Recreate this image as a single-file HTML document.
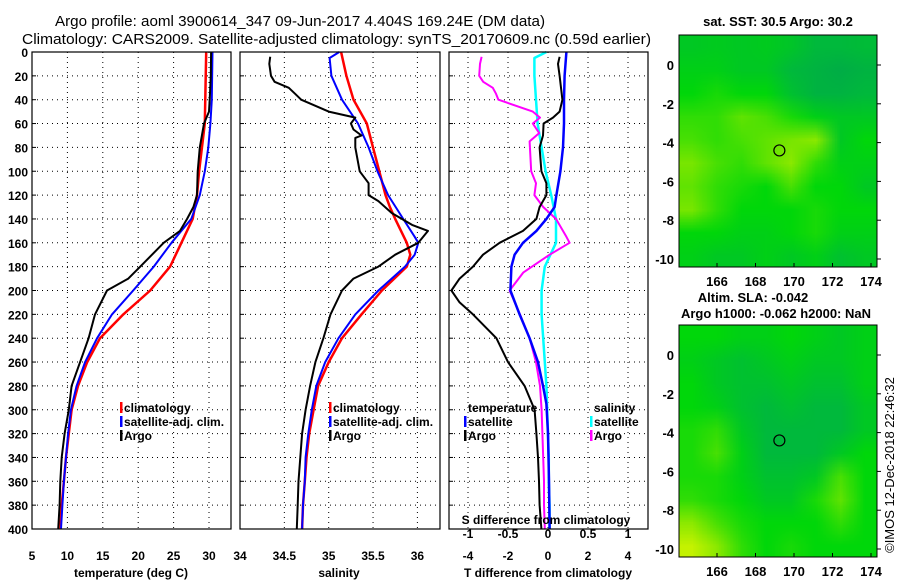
<!DOCTYPE html>
<html><head><meta charset="utf-8"><style>
html,body{margin:0;padding:0;background:#fff;width:900px;height:580px;overflow:hidden}
svg{position:absolute;left:0;top:0}
text{font-family:"Liberation Sans",Arial,sans-serif;font-weight:bold;fill:#000}
canvas{position:absolute}
</style></head><body>
<canvas id="sstMap" width="8" height="10" style="left:679px;top:35px;width:198px;height:232px"></canvas>
<canvas id="slaMap" width="8" height="10" style="left:679px;top:325px;width:198px;height:232px"></canvas>
<svg id="chart" width="900" height="580" xmlns="http://www.w3.org/2000/svg">
<text x="55" y="26" font-size="15" textLength="490" lengthAdjust="spacingAndGlyphs" style="font-weight:normal">Argo profile: aoml 3900614_347 09-Jun-2017 4.404S 169.24E (DM data)</text>
<text x="22" y="44" font-size="15" textLength="629" lengthAdjust="spacingAndGlyphs" style="font-weight:normal">Climatology: CARS2009. Satellite-adjusted climatology: synTS_20170609.nc (0.59d earlier)</text>
<text x="778" y="26" font-size="13" text-anchor="middle">sat. SST: 30.5 Argo: 30.2</text>
<text x="753" y="302" font-size="13" text-anchor="middle">Altim. SLA: -0.042</text>
<text x="776" y="318" font-size="13" text-anchor="middle">Argo h1000: -0.062 h2000: NaN</text>
<text x="0" y="0" font-size="13" style="font-weight:normal" text-anchor="middle" transform="translate(894,465) rotate(-90)">©IMOS 12-Dec-2018 22:46:32</text>
<g id="g"></g>
</svg>
<script>
// ---- data ----
const tClimDepth=[0,60,100,120,140,160,180,200,220,240,260,280,300,320,340,360,380,400];
const tClim=[29.6,29.4,28.6,28.3,27.7,26.1,24.5,21.7,17.9,14.6,12.8,11.5,10.6,10.2,9.8,9.5,9.2,9.0];
const tSatDepth=[0,40,60,80,100,120,140,160,180,200,220,240,260,280,300,320,340,360,380,400];
const tSat=[30.5,30.4,30.2,29.9,29.4,28.7,27.5,24.7,22.2,19.3,16.3,14.2,12.5,11.3,10.5,10.1,9.8,9.5,9.3,9.1];
const tArgoDepth=[0,20,40,50,60,80,100,120,130,140,150,160,180,190,200,220,240,260,280,300,320,340,360,380,400];
const tArgo=[30.3,30.25,30.1,30.0,29.3,28.7,28.4,28.3,27.8,26.9,25.9,23.6,20.3,18.6,15.6,13.9,13.0,11.8,10.6,10.2,9.6,9.2,9.0,8.9,8.7];
const sClimDepth=[0,20,40,60,80,100,120,130,140,160,170,180,200,220,240,260,280,300,320,340,360,380,400];
const sClim=[35.14,35.2,35.28,35.43,35.5,35.57,35.64,35.69,35.75,35.88,35.92,35.88,35.6,35.37,35.15,35.0,34.88,34.83,34.78,34.75,34.73,34.71,34.7];
const sSatDepth=[0,5,20,40,60,80,100,120,140,155,160,170,180,200,220,240,260,280,300,320,340,360,380,400];
const sSat=[35.12,35.01,35.03,35.15,35.33,35.45,35.55,35.67,35.84,35.97,36.01,35.97,35.86,35.56,35.3,35.11,34.96,34.86,34.81,34.77,34.74,34.73,34.71,34.7];
const sArgoDepth=[4,10,20,25,30,35,40,50,55,60,65,70,72,80,100,110,120,125,135,145,150,160,170,180,190,200,220,240,260,280,300,320,340,360,380,400];
const sArgo=[34.34,34.33,34.35,34.39,34.55,34.62,34.69,35.0,35.3,35.25,35.28,35.37,35.3,35.3,35.35,35.45,35.45,35.56,35.71,35.94,36.12,36.01,35.75,35.56,35.28,35.15,35.02,34.94,34.85,34.79,34.74,34.7,34.68,34.66,34.65,34.64];
const dsArgoDepth=[4,10,20,25,30,35,40,50,55,60,68,75,100,110,120,130,140,155,160,170,185,200,220,240,260,280,300,320,340,360,380,400];
const dsArgo=[-0.83,-0.85,-0.86,-0.81,-0.69,-0.65,-0.62,-0.19,-0.1,-0.19,-0.11,-0.23,-0.21,-0.15,-0.17,-0.06,0.1,0.23,0.27,0.02,-0.31,-0.48,-0.35,-0.23,-0.15,-0.1,-0.08,-0.07,-0.06,-0.05,-0.05,-0.04];
const dsSatDepth=[0,5,20,40,60,80,100,120,140,160,180,200,220,240,260,280,300,320,340,360,380,400];
const dsSat=[-0.02,-0.17,-0.17,-0.15,-0.13,-0.08,-0.03,0.04,0.1,0.1,-0.04,-0.08,-0.08,-0.06,-0.04,-0.02,-0.01,0,0.01,0.01,0.02,0.02];
const dtSatDepth=[0,20,40,60,80,100,120,130,140,150,160,170,180,200,220,240,260,280,295,320,360,400];
const dtSat=[0.92,0.83,0.8,0.8,0.75,0.62,0.42,0.33,-0.08,-0.58,-1.25,-1.67,-1.83,-1.88,-1.42,-0.92,-0.5,-0.25,-0.08,0,0.05,0.08];
const dtArgoDepth=[4,10,20,40,50,55,60,70,80,100,110,120,130,140,150,160,170,180,190,200,210,220,240,260,280,300,320,340,360,380,400];
const dtArgo=[0.58,0.5,0.58,0.72,0.58,0.25,-0.22,-0.25,-0.42,-0.33,-0.08,-0.08,-0.42,-0.58,-1.25,-2.42,-3.25,-3.75,-4.42,-4.83,-4.42,-3.75,-2.58,-2.0,-1.17,-0.67,-0.58,-0.5,-0.45,-0.42,-0.33];
const tTicks=[5,10,15,20,25,30];
const sTicks=[34.5,35,35.5,36];
const dtTicks=[-4,-2,0,2,4];
const dsTicks=[-1,-0.5,0,0.5,1];
const depthTicks=[0,20,40,60,80,100,120,140,160,180,200,220,240,260,280,300,320,340,360,380,400];
const lonTicks=[166,168,170,172,174];
const latTicks=[0,-2,-4,-6,-8,-10];
const sstGrid=[
[0.4,0.42,0.4,0.42,0.38,0.3,0.3,0.32],
[0.45,0.45,0.4,0.4,0.3,0.25,0.2,0.25],
[0.5,0.55,0.5,0.5,0.35,0.25,0.25,0.3],
[0.6,0.6,0.7,0.65,0.55,0.45,0.4,0.4],
[0.65,0.6,0.65,0.7,0.75,0.8,0.4,0.5],
[0.75,0.65,0.6,0.7,0.8,0.6,0.45,0.45],
[0.7,0.6,0.55,0.5,0.65,0.5,0.5,0.4],
[0.75,0.6,0.5,0.5,0.5,0.55,0.5,0.5],
[0.5,0.5,0.45,0.45,0.5,0.55,0.45,0.45],
[0.45,0.4,0.4,0.45,0.4,0.45,0.35,0.4]];
const slaGrid=[
[0.5,0.5,0.45,0.45,0.5,0.45,0.4,0.45],
[0.45,0.4,0.35,0.4,0.45,0.4,0.4,0.45],
[0.5,0.4,0.35,0.35,0.4,0.35,0.35,0.45],
[0.5,0.45,0.35,0.3,0.35,0.3,0.3,0.4],
[0.55,0.6,0.4,0.3,0.3,0.3,0.3,0.4],
[0.55,0.65,0.45,0.3,0.3,0.3,0.4,0.5],
[0.55,0.55,0.45,0.35,0.35,0.4,0.65,0.5],
[0.6,0.55,0.5,0.4,0.4,0.55,0.7,0.5],
[0.8,0.65,0.55,0.5,0.5,0.5,0.6,0.5],
[0.95,0.8,0.6,0.5,0.55,0.5,0.5,0.5]];
const argoLon=169.24, argoLat=-4.404;

// ---- drawing ----
const NS='http://www.w3.org/2000/svg';
const G=document.getElementById('g');
function mk(tag,attrs){const e=document.createElementNS(NS,tag);for(const k in attrs)e.setAttribute(k,attrs[k]);G.appendChild(e);return e;}
const yTop=52,yBot=529;
const yD=d=>yTop+(d/400)*(yBot-yTop);
function lin(d0,d1,r0,r1){return v=>r0+(v-d0)/(d1-d0)*(r1-r0);}
const xT=lin(5,30,32,209), xS=lin(34,36,240,417.4), xDT=lin(-4,4,468,628), xDS=lin(-1,1,468,628);
const panels=[[32,231],[240,440],[449,648]];

function grid(x0,x1,xs,xf){
  depthTicks.forEach(d=>{if(d>0&&d<400){const l=mk('line',{x1:x0,x2:x1,y1:yD(d),y2:yD(d),stroke:'#000','stroke-width':1,'stroke-dasharray':'1 4'});
    
    const t=mk('line',{x1:x0,x2:x0+4,y1:yD(d),y2:yD(d),stroke:'#000'});}});
  xs.forEach(v=>{const x=xf(v);if(x>x0+1&&x<x1-1){const l=mk('line',{x1:x,x2:x,y1:yTop,y2:yBot,stroke:'#000','stroke-width':1,'stroke-dasharray':'1 4'});
    }});
}
grid(32,231,tTicks,xT);grid(240,440,sTicks,xS);grid(449,648,dtTicks,xDT);

function series(ds,vs,xf,color,w,name){
  const pts=ds.map((d,i)=>xf(vs[i]).toFixed(1)+','+yD(d).toFixed(1)).join(' ');
  const p=mk('polyline',{points:pts,fill:'none',stroke:color,'stroke-width':w,'stroke-linejoin':'round'});
  
}
series(tClimDepth,tClim,xT,'#ff0000',2.5,'temp-climatology-line');
series(tSatDepth,tSat,xT,'#0000ff',2,'temp-satellite-line');
series(tArgoDepth,tArgo,xT,'#000',2,'temp-argo-line');
series(sClimDepth,sClim,xS,'#ff0000',2.5,'sal-climatology-line');
series(sSatDepth,sSat,xS,'#0000ff',2,'sal-satellite-line');
series(sArgoDepth,sArgo,xS,'#000',2,'sal-argo-line');
series(dsSatDepth,dsSat,xDS,'#00ffff',2.5,'sdiff-satellite-line');
series(dsArgoDepth,dsArgo,xDS,'#ff00ff',2,'sdiff-argo-line');
series(dtSatDepth,dtSat,xDT,'#0000ff',2.5,'tdiff-satellite-line');
series(dtArgoDepth,dtArgo,xDT,'#000',2,'tdiff-argo-line');

panels.forEach(p=>{const r=mk('rect',{x:p[0],y:yTop,width:p[1]-p[0],height:yBot-yTop,fill:'none',stroke:'#000','stroke-width':1.2});
  });

function txt(x,y,s,size,anchor,name){const t=mk('text',{x:x,y:y,'font-size':size,'text-anchor':anchor||'start'});t.textContent=s;
  return t;}
depthTicks.forEach(d=>txt(28,yD(d)+5,String(d),12,'end','y-tick-label'));
tTicks.forEach(v=>txt(xT(v),560,String(v),12,'middle','x-tick-label'));
[34].concat(sTicks).forEach(v=>txt(xS(v),560,String(v),12,'middle','x-tick-label'));
dtTicks.forEach(v=>txt(xDT(v),560,String(v),12,'middle','x-tick-label'));
dsTicks.forEach(v=>txt(xDS(v),538,String(v),12,'middle','s-tick-label'));
txt(131,577,'temperature (deg C)',12,'middle','x-axis-title');
txt(339,577,'salinity',12,'middle','x-axis-title');
txt(548,577,'T difference from climatology',12,'middle','x-axis-title');
txt(546,524,'S difference from climatology',12,'middle','s-axis-title');

function leg(x,y,color,label){const b=mk('rect',{x:x-4,y:y-10,width:2.5,height:11,fill:color});
  
  txt(x,y,label,12,'start','legend-entry');}
leg(124,412,'#ff0000','climatology');leg(124,426,'#0000ff','satellite-adj. clim.');leg(124,440,'#000','Argo');
leg(333,412,'#ff0000','climatology');leg(333,426,'#0000ff','satellite-adj. clim.');leg(333,440,'#000','Argo');
txt(468,412,'temperature',12,'start','legend-header');leg(468,426,'#0000ff','satellite');leg(468,440,'#000','Argo');
txt(594,412,'salinity',12,'start','legend-header');leg(594,426,'#00ffff','satellite');leg(594,440,'#ff00ff','Argo');

// maps
const xLon=lin(166,174,717,871);
function mapAxes(top,bot,lat0y,lat10y,name){
  const yLat=lin(0,-10,lat0y,lat10y);
  const r=mk('rect',{x:679,y:top,width:198,height:bot-top,fill:'none',stroke:'#000','stroke-width':1});
  
  lonTicks.forEach(v=>{txt(xLon(v),bot+19,String(v),13,'middle','lon-tick-label');
    const t=mk('line',{x1:xLon(v),x2:xLon(v),y1:bot,y2:bot-4,stroke:'#000'});});
  latTicks.forEach(v=>{txt(674,yLat(v)+5,String(v),13,'end','lat-tick-label');
    const t=mk('line',{x1:877,x2:881,y1:yLat(v),y2:yLat(v),stroke:'#000'});});
  const c=mk('circle',{cx:xLon(argoLon),cy:yLat(argoLat),r:5.5,fill:'none',stroke:'#000','stroke-width':1.2});
  
}
mapAxes(35,267,65,259,'sst-map');mapAxes(325,557,355,549,'sla-map');

function cmap(v){const stops=[[0,[0,150,90]],[0.3,[0,185,60]],[0.5,[0,215,10]],[0.75,[120,230,0]],[1,[215,245,0]]];
  for(let i=1;i<stops.length;i++){if(v<=stops[i][0]){const a=stops[i-1],b=stops[i],f=(v-a[0])/(b[0]-a[0]);
    return 'rgb('+a[1].map((c,k)=>Math.round(c+f*(b[1][k]-c))).join(',')+')';}}return 'rgb(215,245,0)';}
function paint(id,grid){const ctx=document.getElementById(id).getContext('2d');
  grid.forEach((row,j)=>row.forEach((v,i)=>{ctx.fillStyle=cmap(v);ctx.fillRect(i,j,1,1);}));}
paint('sstMap',sstGrid);paint('slaMap',slaGrid);
</script>
</body></html>
